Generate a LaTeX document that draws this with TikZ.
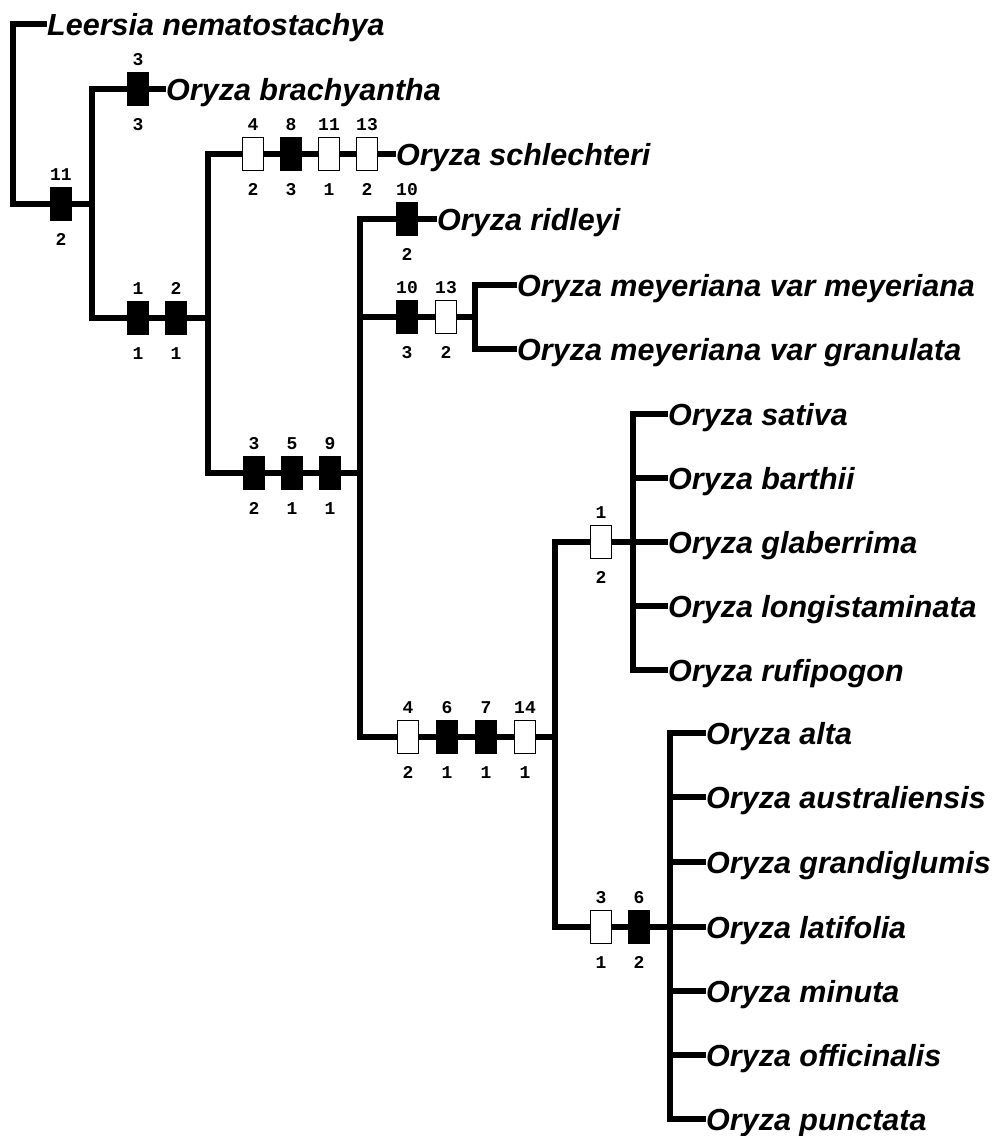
\documentclass[tikz,border=0pt]{standalone}
\usepackage{fontspec}
\newfontfamily\taxfont{Liberation Sans}
\newfontfamily\numfont{Liberation Mono}
\tikzset{
  branch/.style={line width=5.5pt},
  taxon/.style={font=\taxfont\bfseries\itshape\fontsize{30.5}{36}\selectfont,
    anchor=west, inner sep=0pt, text height=22pt, text depth=0pt},
  num/.style={font=\numfont\bfseries\fontsize{18}{18}\selectfont, inner sep=0pt},
  synbox/.style={draw, fill=black, line width=1.2pt, minimum width=21pt,
    minimum height=33pt, inner sep=0pt},
  hombox/.style={synbox, fill=white},
  ctop/.style={label={[num,label distance=6pt]above:#1}},
  cbot/.style={label={[num,label distance=12pt]below:#1}},
}
\begin{document}
\begin{tikzpicture}[x=1pt,y=-1pt]
  \useasboundingbox (0,0) rectangle (998,1136);

  \node[taxon] (lnem) at (47,24) {Leersia nematostachya};
  \node[taxon] (obra) at (166,89) {Oryza brachyantha};
  \node[taxon] (osch) at (396,154) {Oryza schlechteri};
  \node[taxon] (orid) at (437,219) {Oryza ridleyi};
  \node[taxon] (omey) at (517,285) {Oryza meyeriana var meyeriana};
  \node[taxon] (ogra) at (517,349) {Oryza meyeriana var granulata};
  \node[taxon] (osat) at (668,414) {Oryza sativa};
  \node[taxon] (obar) at (668,478) {Oryza barthii};
  \node[taxon] (ogla) at (668,542) {Oryza glaberrima};
  \node[taxon] (olon) at (668,606) {Oryza longistaminata};
  \node[taxon] (oruf) at (668,670) {Oryza rufipogon};
  \node[taxon] (oalt) at (706,733) {Oryza alta};
  \node[taxon] (oaus) at (706,797) {Oryza australiensis};
  \node[taxon] (ogrd) at (706,862) {Oryza grandiglumis};
  \node[taxon] (olat) at (706,927) {Oryza latifolia};
  \node[taxon] (omin) at (706,991) {Oryza minuta};
  \node[taxon] (ooff) at (706,1055) {Oryza officinalis};
  \node[taxon] (opun) at (706,1119) {Oryza punctata};

  \coordinate (r0) at (13,204);
  \coordinate (nA) at (92,204);
  \coordinate (nB) at (208,318);
  \coordinate (nC) at (360,473);
  \coordinate (nM) at (475,317);
  \coordinate (nD) at (555,737);
  \coordinate (nS) at (633,542);
  \coordinate (nL) at (670,927);

  \draw[branch] (lnem.west) -| (r0) -- (nA);
  \draw[branch] (obra.west) -| (nA) |- (nB);
  \draw[branch] (osch.west) -| (nB) |- (nC);
  \draw[branch] (orid.west) -| (nC) |- (nD);
  \draw[branch] (nC |- nM) -- (nM);
  \draw[branch] (omey.west) -| (nM) |- (ogra.west);
  \draw[branch] (nS) -| (nD) |- (nL);
  \draw[branch] (osat.west) -| (nS) |- (oruf.west);
  \draw[branch] (obar.west) -- (obar.west -| nS);
  \draw[branch] (ogla.west) -- (nS);
  \draw[branch] (olon.west) -- (olon.west -| nS);
  \draw[branch] (oalt.west) -| (nL) |- (opun.west);
  \draw[branch] (oaus.west) -- (oaus.west -| nL);
  \draw[branch] (ogrd.west) -- (ogrd.west -| nL);
  \draw[branch] (olat.west) -- (nL);
  \draw[branch] (omin.west) -- (omin.west -| nL);
  \draw[branch] (ooff.west) -- (ooff.west -| nL);

  \node[synbox,ctop=11,cbot=2] (k1) at (61,204) {};
  \node[synbox,ctop=3,cbot=3] (k2) at (138,89) {};
  \node[synbox,ctop=1,cbot=1] (k3) at (138,318) {};
  \node[synbox,ctop=2,cbot=1] (k4) at (176,318) {};
  \node[hombox,ctop=4,cbot=2] (k5) at (253,154) {};
  \node[synbox,ctop=8,cbot=3] (k6) at (291,154) {};
  \node[hombox,ctop=11,cbot=1] (k7) at (329,154) {};
  \node[hombox,ctop=13,cbot=2] (k8) at (367,154) {};
  \node[synbox,ctop=3,cbot=2] (k9) at (254,473) {};
  \node[synbox,ctop=5,cbot=1] (k10) at (292,473) {};
  \node[synbox,ctop=9,cbot=1] (k11) at (330,473) {};
  \node[synbox,ctop=10,cbot=2] (k12) at (407,219) {};
  \node[synbox,ctop=10,cbot=3] (k13) at (407,317) {};
  \node[hombox,ctop=13,cbot=2] (k14) at (446,317) {};
  \node[hombox,ctop=4,cbot=2] (k15) at (408,737) {};
  \node[synbox,ctop=6,cbot=1] (k16) at (447,737) {};
  \node[synbox,ctop=7,cbot=1] (k17) at (486,737) {};
  \node[hombox,ctop=14,cbot=1] (k18) at (525,737) {};
  \node[hombox,ctop=1,cbot=2] (k19) at (601,542) {};
  \node[hombox,ctop=3,cbot=1] (k20) at (601,927) {};
  \node[synbox,ctop=6,cbot=2] (k21) at (639,927) {};
\end{tikzpicture}
\end{document}
